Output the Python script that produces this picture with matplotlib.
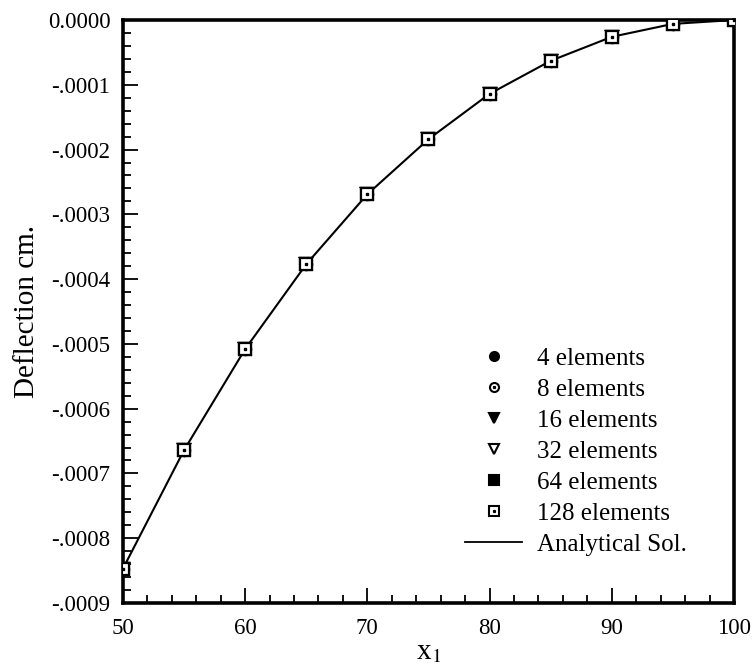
import matplotlib
matplotlib.use("Agg")
import matplotlib.pyplot as plt
from matplotlib.ticker import MultipleLocator, FixedLocator

plt.rcParams['font.family'] = ['Liberation Serif', 'DejaVu Serif']
plt.rcParams['mathtext.fontset'] = 'stix'

x = [50, 55, 60, 65, 70, 75, 80, 85, 90, 95, 100]
deflection = [-0.000847, -0.000664, -0.000508, -0.000377, -0.000269, -0.000184,
              -0.000114, -0.000063, -0.000026, -0.000006, 0.0]
series_labels = ["4 elements", "8 elements", "16 elements", "32 elements",
                 "64 elements", "128 elements"]
analytical_label = "Analytical Sol."
yticks = [0.0, -0.0001, -0.0002, -0.0003, -0.0004, -0.0005, -0.0006, -0.0007, -0.0008, -0.0009]
yticklabels = ["0.0000", "-.0001", "-.0002", "-.0003", "-.0004", "-.0005", "-.0006",
               "-.0007", "-.0008", "-.0009"]
xticks = [50, 60, 70, 80, 90, 100]

fig = plt.figure(figsize=(7.54, 6.69), dpi=100)
ax = fig.add_axes([0.1631, 0.0987, 0.8103, 0.8714])

ax.plot(x, deflection, color='black', lw=1.5, zorder=2)

styles = [
    dict(marker='o', mfc='black', mec='black'),
    dict(marker='o', mfc='white', mec='black'),
    dict(marker='v', mfc='black', mec='black'),
    dict(marker='v', mfc='white', mec='black'),
    dict(marker='s', mfc='black', mec='black'),
    dict(marker='s', mfc='white', mec='black'),
]
handles = []
for lab, st in zip(series_labels, styles):
    ax.plot(x, deflection, ls='none', ms=8, mew=1.6, zorder=3, **st)
    h, = ax.plot([], [], ls='none', ms=6.5, mew=1.5, **st)
    if lab in ("8 elements", "128 elements"):
        ax.plot(x, deflection, ls='none', marker='s', ms=1.6, color='black', zorder=3)
        d, = ax.plot([], [], ls='none', marker='s', ms=1.3, color='black')
        handles.append((h, d))
    else:
        handles.append(h)
line_h, = ax.plot([], [], color='black', lw=1.3)
handles.append(line_h)
labels = series_labels + [analytical_label]

ax.set_xlim(50, 100)
ax.set_ylim(-0.0009, 0.0)
ax.xaxis.set_major_locator(FixedLocator(xticks))
ax.xaxis.set_minor_locator(MultipleLocator(2))
ax.yaxis.set_major_locator(FixedLocator(yticks))
ax.set_yticklabels(yticklabels)
ax.yaxis.set_minor_locator(MultipleLocator(0.00002))
ax.tick_params(which='both', direction='in', top=False, right=False, labelsize=16.5, width=1.3)
ax.tick_params(which='major', length=11)
ax.tick_params(axis='y', which='major', pad=9)
ax.tick_params(axis='x', which='major', pad=11)
ax.tick_params(which='minor', length=5.5)
for s in ax.spines.values():
    s.set_linewidth(2.6)

ax.set_xlabel("x$_1$", fontsize=21, labelpad=0)
ax.set_ylabel("Deflection cm.", fontsize=21, labelpad=6)

leg = fig.legend(handles, labels, loc='upper left', bbox_to_anchor=(0.617, 0.4805),
                 frameon=False, fontsize=18, handlelength=2.28, labelspacing=0.34,
                 handletextpad=0.6, borderpad=0, borderaxespad=0)

fig.savefig("out.png", dpi=100)
